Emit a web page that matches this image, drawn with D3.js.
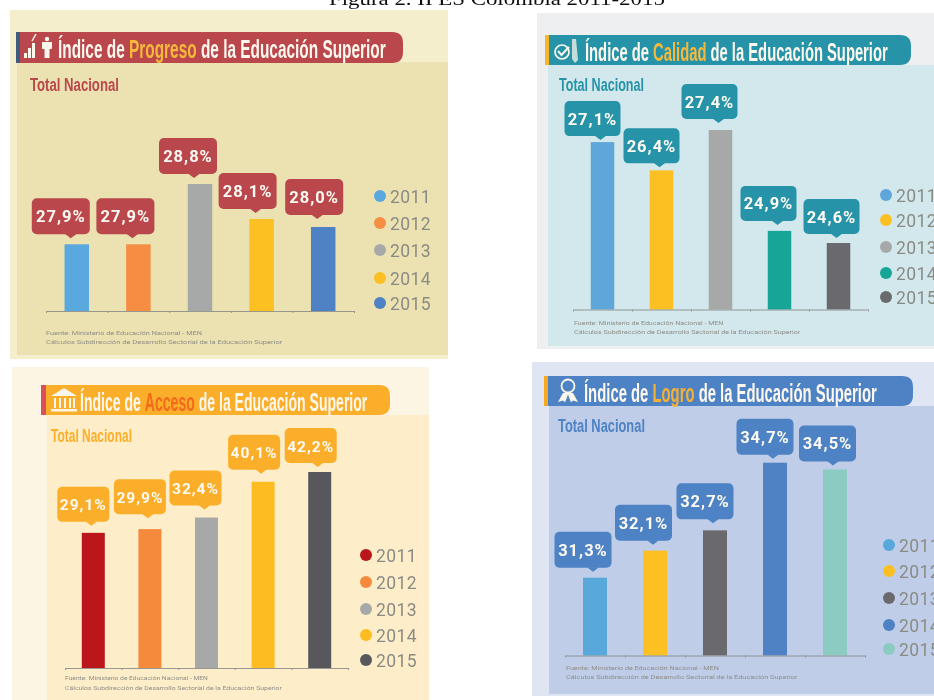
<!DOCTYPE html>
<html><head><meta charset="utf-8">
<style>html,body{margin:0;padding:0;background:#fff;overflow:hidden}svg{display:block}</style>
<script src="https://cdn.jsdelivr.net/npm/d3@7"></script></head>
<body><svg id="c" width="934" height="700"></svg>
<script>
// ---------- data ----------
const years = ["2011","2012","2013","2014","2015"];
const figureTitle = "Figura 2. II ES Colombia 2011-2015";
const subtitle = "Total Nacional";
const source1 = "Fuente: Ministerio de Educación Nacional - MEN";
const source2 = "Cálculos Subdirección de Desarrollo Sectorial de la Educación Superior";

const progresoValues = [27.9, 27.9, 28.8, 28.1, 28.0];
const calidadValues  = [27.1, 26.4, 27.4, 24.9, 24.6];
const accesoValues   = [29.1, 29.9, 32.4, 40.1, 42.2];
const logroValues    = [31.3, 32.1, 32.7, 34.7, 34.5];

const progresoColors = ["#5aa9de","#f58d42","#a7a9a9","#fcc020","#4f81c5"];
const calidadColors  = ["#5ea6da","#fcc020","#a7a9a9","#12a596","#6a6b6e"];
const accesoColors   = ["#bb161c","#f58a3c","#a7a9a9","#fdbd20","#58595b"];
const logroColors    = ["#58a8dc","#fcc020","#6a6b6e","#4f81c5","#8ccbc1"];

// ---------- layout ----------
const panels = [
 {word:"Progreso", values:progresoValues, colors:progresoColors, icon:"people",
  outer:[10,10,448,359], outerFill:"#f4eecd", inner:[17,62,448,355], innerFill:"#ece2b1",
  ribbon:[16,32,403,63], ribbonFill:"#b9474c", strip:"#3f5a80", stripW:4, wordFill:"#f6b93a",
  titleX:58,titleEnd:386,titleY:58, subX:30,subEnd:119,subY:91,
  axis:[46,354], baseY:311, barW:24.5, yDomain:[27.9,28.0,28.1,28.8], yPix:[244.3,227,219,184], yBase:27,
  dx:[-16,-13,-12,-14,-9], gap:[10,10,10,10,12], boxW:58,boxH:36, tip:-4,
  legendX:380, legendY:[196,223,250,278,303], srcX:46, srcY:[335,344], srcEnd:283},
 {word:"Calidad", values:calidadValues, colors:calidadColors, icon:"check",
  outer:[537,13,940,349], outerFill:"#eeeff1", inner:[548,65,940,346], innerFill:"#d2e8ec",
  ribbon:[545,35,911,65], ribbonFill:"#2693a8", strip:"#f7b52a", stripW:4, wordFill:"#f6b93a",
  titleX:585,titleEnd:888,titleY:61, subX:559,subEnd:644,subY:91,
  axis:[573,868], baseY:309.5, barW:23.5, yDomain:[24.6,27.4], yPix:[243,130], yBase:22.95,
  dx:[-10,-10,-11,-11,-7], gap:[6,7,11,10,9], boxW:56,boxH:35, tip:0,
  legendX:886, legendY:[195,220,247,273,297], srcX:574, srcY:[325,334], srcEnd:801},
 {word:"Acceso", values:accesoValues, colors:accesoColors, icon:"bank",
  outer:[12,367,429,700], outerFill:"#fdf5e4", inner:[47,415,429,700], innerFill:"#fdeec9",
  ribbon:[41,385,390,415], ribbonFill:"#fbae2a", strip:"#d9505a", stripW:5, wordFill:"#f26a1b",
  titleX:80,titleEnd:367,titleY:411, subX:51,subEnd:132,subY:442,
  axis:[65,348], baseY:668, barW:23, yDomain:[0,42.2], yPix:[668,472], yBase:0,
  dx:[-10,-10,-11,-9,-9], gap:[11,15,12,12,9], boxW:52,boxH:35, tip:0,
  legendX:366, legendY:[555,582,609,635,660], srcX:65, srcY:[680,690], srcEnd:282},
 {word:"Logro", values:logroValues, colors:logroColors, icon:"medal",
  outer:[532,362,940,696], outerFill:"#dfe5f3", inner:[549,406,940,694], innerFill:"#bfcde8",
  ribbon:[544,376,913,406], ribbonFill:"#4e82c4", strip:"#f7a823", stripW:4, wordFill:"#f7b030",
  titleX:584,titleEnd:877,titleY:402, subX:558,subEnd:645,subY:432,
  axis:[565,865], baseY:655.5, barW:24, yDomain:[31.3,34.7], yPix:[577.7,462.7], yBase:29,
  dx:[-12,-11.5,-10,-10,-7.5], gap:[10,10,11,8,8], boxW:57,boxH:36, tip:0,
  legendX:889, legendY:[545,571,598,625,649], srcX:566, srcY:[670,679], srcEnd:798}
];

const svg = d3.select("#c");
const defs = svg.append("defs");
defs.append("filter").attr("id","soft").attr("x","-2%").attr("y","-2%").attr("width","104%").attr("height","104%")
  .append("feGaussianBlur").attr("stdDeviation",0.6);
const root = svg.append("g").attr("filter","url(#soft)");
root.append("rect").attr("width",934).attr("height",700).attr("fill","#fff");

const NARROW = "'Liberation Sans Narrow','Liberation Sans',sans-serif";
const DIN = "Roboto,'DejaVu Sans',sans-serif";

function fit(sel, x, end, y){
  const w = sel.node().getComputedTextLength();
  sel.attr("transform",`translate(${x},${y}) scale(${(end-x)/w},1)`);
}
const rect = (g,b,f)=>g.append("rect").attr("x",b[0]).attr("y",b[1]).attr("width",b[2]-b[0]).attr("height",b[3]-b[1]).attr("fill",f);

const title = root.append("text").text(figureTitle)
  .attr("font-family","'Liberation Serif',serif").attr("font-size",18).attr("fill","#111");
fit(title,329,665,5);

function icon(g,p){
  const x=p.ribbon[0], y=p.ribbon[1], w="#fbf6ea";
  const i=g.append("g").attr("fill",w).attr("stroke",w);
  if(p.icon==="people"){
    i.attr("stroke","none");
    [[8,21,3,5],[12,16,3,10],[16,11,3,15]].forEach(r=>i.append("rect").attr("x",x+r[0]).attr("y",y+r[1]).attr("width",r[2]).attr("height",r[3]));
    i.append("path").attr("d",`M${x+16} ${y+9}L${x+20} ${y+2}`).attr("stroke",w).attr("stroke-width",1.5);
    i.append("circle").attr("cx",x+31).attr("cy",y+7).attr("r",2.2);
    i.append("path").attr("d",`M${x+26} ${y+10}h10v7h-2.5v9h-5v-9h-2.5z`);
  } else if(p.icon==="check"){
    i.attr("fill","none").attr("stroke-width",1.7);
    i.append("circle").attr("cx",x+17).attr("cy",y+17).attr("r",7);
    i.append("path").attr("d",`M${x+13} ${y+16}l3.5 4l7.5 -8`).attr("stroke-width",2);
    i.append("path").attr("d",`M${x+27} ${y+4}h4l2 21l-3 3l-3 -4z`).attr("fill",w).attr("fill-opacity",.75).attr("stroke","none");
  } else if(p.icon==="bank"){
    i.attr("stroke","none");
    i.append("path").attr("d",`M${x+10} ${y+11}L${x+23} ${y+3}L${x+36} ${y+11}z`);
    [14,19,24,29,33].forEach(d=>i.append("rect").attr("x",x+d-1).attr("y",y+13).attr("width",2).attr("height",10));
    i.append("rect").attr("x",x+10).attr("y",y+24).attr("width",26).attr("height",2.5);
  } else {
    i.attr("fill","none").attr("stroke-width",1.8);
    i.append("circle").attr("cx",x+24).attr("cy",y+10).attr("r",6.5);
    i.append("path").attr("d",`M${x+19} ${y+17}l-5 9l5 -1.5l2 2l3 -8l3 8l2 -2l5 1.5l-5 -9z`).attr("fill",w).attr("stroke","none");
  }
}

panels.forEach(p=>{
  const g = root.append("g");
  rect(g,[p.outer[0],p.outer[1],p.outer[2],p.outer[3]],p.outerFill);
  rect(g,p.inner,p.innerFill);

  // ribbon
  const [rx0,ry0,rx1,ry1]=p.ribbon;
  g.append("path").attr("fill",p.ribbonFill)
    .attr("d",`M${rx0} ${ry0}H${rx1-11}Q${rx1} ${ry0} ${rx1} ${ry0+11}V${ry1-11}Q${rx1} ${ry1} ${rx1-11} ${ry1}H${rx0}z`);
  rect(g,[rx0,ry0,rx0+p.stripW,ry1],p.strip);
  icon(g,p);

  const t = g.append("text").attr("font-family",NARROW).attr("font-weight",700).attr("font-size",25).attr("fill","#fdf8ee");
  t.append("tspan").text("Índice de ");
  t.append("tspan").attr("fill",p.wordFill).text(p.word);
  t.append("tspan").text(" de la Educación Superior");
  fit(t,p.titleX,p.titleEnd,p.titleY);

  const s = g.append("text").text(subtitle).attr("font-family",NARROW).attr("font-weight",700)
    .attr("font-size",19).attr("fill",p.ribbonFill);
  fit(s,p.subX,p.subEnd,p.subY);

  // scales
  const x = d3.scaleLinear().domain([0,years.length]).range(p.axis);
  const y = d3.scaleLinear().domain([p.yBase,...p.yDomain.filter(d=>d!==p.yBase)])
              .range([p.baseY,...p.yPix.filter((d,i)=>p.yDomain[i]!==p.yBase)]);

  // bars
  g.selectAll("rect.bar").data(p.values).join("rect").attr("class","bar")
    .attr("x",(d,i)=>x(i+.5)-p.barW/2).attr("width",p.barW)
    .attr("y",d=>y(d)).attr("height",d=>p.baseY-y(d))
    .attr("fill",(d,i)=>p.colors[i]);

  // axis
  const ax = g.append("g").attr("transform",`translate(0,${p.baseY})`)
    .call(d3.axisBottom(x).tickValues(d3.range(years.length+1)).tickSize(2).tickSizeOuter(0).tickFormat(""));
  ax.selectAll("path,line").attr("stroke","#8d8f8c").attr("stroke-width",.9);

  // value callouts
  const cg = g.selectAll("g.call").data(p.values).join("g").attr("class","call");
  cg.each(function(d,i){
    const c=d3.select(this), cx=x(i+.5)+p.dx[i], bot=y(d)-p.gap[i], px=x(i+.5)-2+p.tip;
    c.append("rect").attr("x",cx-p.boxW/2).attr("y",bot-p.boxH).attr("width",p.boxW).attr("height",p.boxH)
      .attr("rx",5).attr("fill",p.ribbonFill);
    c.append("path").attr("d",`M${px-6} ${bot-.5}L${px} ${bot+4}L${px+6} ${bot-.5}z`).attr("fill",p.ribbonFill);
    c.append("text").attr("x",cx).attr("y",bot-p.boxH/2+6).attr("text-anchor","middle")
      .attr("font-family",DIN).attr("font-weight",700).attr("font-size",p.boxW<54?15.5:16.5).attr("letter-spacing",1)
      .attr("fill","#fdfaf3").text(d.toFixed(1).replace(".",",")+"%");
  });

  // legend
  const lg = g.selectAll("g.leg").data(years).join("g").attr("class","leg");
  lg.append("circle").attr("cx",p.legendX).attr("cy",(d,i)=>p.legendY[i]).attr("r",6)
    .attr("fill",(d,i)=>p.colors[i]);
  lg.append("text").attr("x",p.legendX+10).attr("y",(d,i)=>p.legendY[i]+6.5)
    .attr("font-family",DIN).attr("font-size",17.5).attr("letter-spacing",.4).attr("fill","#8a8b85").text(d=>d);

  // source
  [source1,source2].forEach((txt,i)=>{
    const st=g.append("text").text(txt).attr("font-family",DIN).attr("font-size",6).attr("fill","#8f8f88");
    const w=(i===0?0.66:1);
    fit(st,p.srcX,p.srcX+(p.srcEnd-p.srcX)*w,p.srcY[i]);
  });
});
</script></body></html>
